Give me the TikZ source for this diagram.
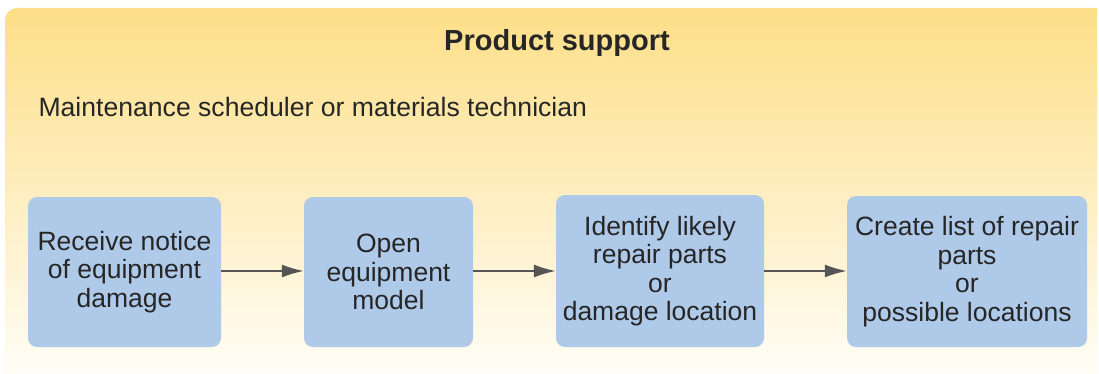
\documentclass[tikz,border=0pt]{standalone}
\usepackage{fontspec}
\setmainfont{Liberation Sans}
\usetikzlibrary{arrows.meta}
\definecolor{bgtop}{HTML}{FDDF88}
\definecolor{bgbot}{HTML}{FFFDF6}
\definecolor{boxfill}{HTML}{AFC9E9}
\definecolor{arrowc}{HTML}{555555}
\begin{document}
\begin{tikzpicture}[x=1pt,y=-1pt,
  stepbox/.style={fill=boxfill, rounded corners=9pt, align=center, inner sep=0pt,
    font=\fontsize{26.5}{28.5}\selectfont, text=black!85},
  flow/.style={draw=arrowc, line width=1.8pt, -{Latex[length=22pt,width=13pt]}}]
\useasboundingbox (0,0) rectangle (1099,374);
\fill[white] (0,0) rectangle (1099,374);
\shade[top color=bgtop, bottom color=bgbot]
  (5,374) -- (5,20) arc[start angle=180, end angle=270, radius=12] -- (1097,8) -- (1097,374) -- cycle;
\node[font=\bfseries\fontsize{29}{34}\selectfont, text=black!85] (title) at (557,43) {Product support};
\node[anchor=base west, font=\fontsize{26.6}{30}\selectfont, text=black!85] (role) at (35,117) {Maintenance scheduler or materials technician};
\node[stepbox, minimum width=193pt, minimum height=150pt] (b1) at (124.5,272) {Receive notice\\of equipment\\damage};
\node[stepbox, minimum width=169pt, minimum height=150pt] (b2) at (388.5,272) {Open\\equipment\\model};
\node[stepbox, minimum width=208pt, minimum height=152pt] (b3) at (660,271) {Identify likely\\repair parts\\or\\damage location};
\node[stepbox, minimum width=240pt, minimum height=151pt] (b4) at (967,271.5) {Create list of repair\\parts\\or\\possible locations};
\draw[flow] (b1.east |- 0,271) -- (b2.west |- 0,271);
\draw[flow] (b2.east |- 0,271) -- (b3.west |- 0,271);
\draw[flow] (b3.east |- 0,271) -- (b4.west |- 0,271);
\end{tikzpicture}
\end{document}
